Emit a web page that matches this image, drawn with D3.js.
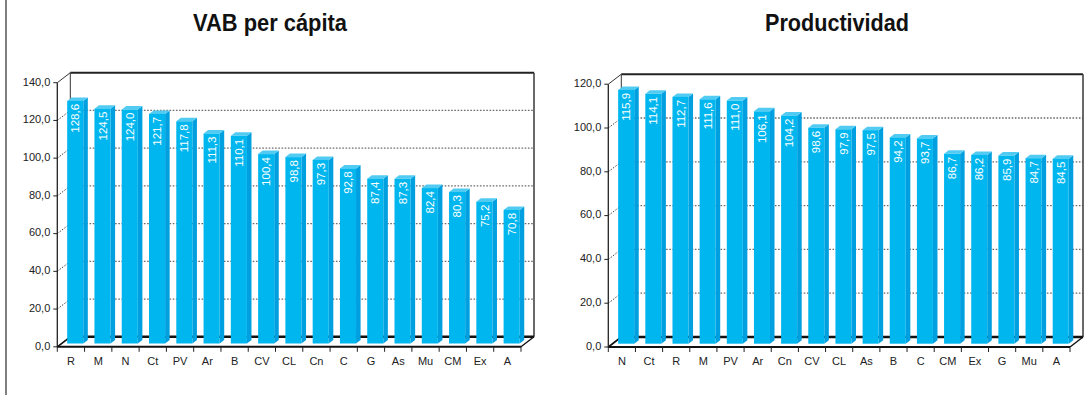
<!DOCTYPE html>
<html>
<head>
<meta charset="utf-8">
<script src="https://cdn.jsdelivr.net/npm/d3@7"></script>
<style>
  html, body { margin: 0; padding: 0; background: #fff; }
  svg { display: block; font-family: "Liberation Sans", Arial, sans-serif; }
</style>
</head>
<body>
<svg id="chart" width="1088" height="395"></svg>
<script>
// Regional indices (Spain = 100)
const vabCategories = ["R", "M", "N", "Ct", "PV", "Ar", "B", "CV", "CL", "Cn", "C", "G", "As", "Mu", "CM", "Ex", "A"];
const vabValues = [128.6, 124.5, 124.0, 121.7, 117.8, 111.3, 110.1, 100.4, 98.8, 97.3, 92.8, 87.4, 87.3, 82.4, 80.3, 75.2, 70.8];
const vabTicks = [0, 20, 40, 60, 80, 100, 120, 140];

const prodCategories = ["N", "Ct", "R", "M", "PV", "Ar", "Cn", "CV", "CL", "As", "B", "C", "CM", "Ex", "G", "Mu", "A"];
const prodValues = [115.9, 114.1, 112.7, 111.6, 111.0, 106.1, 104.2, 98.6, 97.9, 97.5, 94.2, 93.7, 86.7, 86.2, 85.9, 84.7, 84.5];
const prodTicks = [0, 20, 40, 60, 80, 100, 120];

const svg = d3.select("#chart");
const locale = d3.formatLocale({ decimal: ",", thousands: ".", grouping: [3], currency: ["", "€"] });
const fmt = locale.format(".1f");

// depth vector of the 3D box and bar placement inside it
const DX = 13, DY = -10;
const F1 = 0.33, F2 = 0.68;

const COLORS = {
  front: "#00B6EF",
  side: "#009FDF",
  top: "#52CBF3",
  axis: "#1a1a1a",
  grid: "#6a6a6a",
  text: "#222"
};

// left frame line
svg.append("line")
  .attr("x1", 6).attr("x2", 6).attr("y1", 0).attr("y2", 395)
  .attr("stroke", "#555").attr("stroke-width", 1.5);

function drawChart(opts) {
  const { title, titleX, titleWidth, categories, values, ticks, x0, x1, yZero, yTop } = opts;
  const g = svg.append("g");

  const x = d3.scaleBand().domain(categories).range([x0, x1])
    .paddingInner(0.41).paddingOuter(0.205);
  const y = d3.scaleLinear().domain([0, d3.max(ticks)]).range([yZero, yTop]);
  const yMax = d3.max(ticks);

  // title
  g.append("text")
    .attr("x", titleX).attr("y", 31)
    .attr("text-anchor", "middle")
    .attr("font-size", 23).attr("font-weight", "bold")
    .attr("textLength", titleWidth).attr("lengthAdjust", "spacingAndGlyphs")
    .attr("fill", "#111")
    .text(title);

  // back wall gridlines (dotted)
  g.append("g").selectAll("line").data(ticks.filter(t => t > 0 && t < yMax)).join("line")
    .attr("x1", x0 + DX).attr("x2", x1 + DX)
    .attr("y1", d => y(d) + DY).attr("y2", d => y(d) + DY)
    .attr("stroke", COLORS.grid).attr("stroke-width", 1.3)
    .attr("stroke-dasharray", "1.6,1.6");

  // back wall frame
  g.append("line")
    .attr("x1", x0 + DX).attr("x2", x1 + DX)
    .attr("y1", y(yMax) + DY).attr("y2", y(yMax) + DY)
    .attr("stroke", "#222").attr("stroke-width", 2);
  g.append("line")
    .attr("x1", x1 + DX).attr("x2", x1 + DX)
    .attr("y1", y(yMax) + DY).attr("y2", y(0) + DY)
    .attr("stroke", "#444").attr("stroke-width", 1.6);
  g.append("line")
    .attr("x1", x0 + DX).attr("x2", x0 + DX)
    .attr("y1", y(yMax) + DY).attr("y2", y(0) + DY)
    .attr("stroke", "#333").attr("stroke-width", 1);
  g.append("line")
    .attr("x1", x0).attr("x2", x0 + DX)
    .attr("y1", y(yMax)).attr("y2", y(yMax) + DY)
    .attr("stroke", "#333").attr("stroke-width", 1);

  // dotted diagonal tick connectors from the axis to the wall
  g.append("g").selectAll("line").data(ticks.filter(t => t < yMax)).join("line")
    .attr("x1", x0).attr("x2", x0 + DX)
    .attr("y1", d => y(d)).attr("y2", d => y(d) + DY)
    .attr("stroke", "#333").attr("stroke-width", 1)
    .attr("stroke-dasharray", "1.4,1.6");

  // floor
  g.append("path")
    .attr("d", `M${x0},${y(0)} L${x0 + DX},${y(0) + DY} L${x1 + DX},${y(0) + DY} L${x1},${y(0)} Z`)
    .attr("fill", "#fff").attr("stroke", "none");
  g.append("line")
    .attr("x1", x0 + DX).attr("x2", x1 + DX)
    .attr("y1", y(0) + DY).attr("y2", y(0) + DY)
    .attr("stroke", "#111").attr("stroke-width", 2.6);
  g.append("line")
    .attr("x1", x0).attr("x2", x0 + DX)
    .attr("y1", y(0)).attr("y2", y(0) + DY)
    .attr("stroke", "#111").attr("stroke-width", 1.6);
  g.append("line")
    .attr("x1", x1).attr("x2", x1 + DX)
    .attr("y1", y(0)).attr("y2", y(0) + DY)
    .attr("stroke", "#111").attr("stroke-width", 1.4);

  // bars
  const data = categories.map((c, i) => ({ c, v: values[i] }));
  const bars = g.append("g").selectAll("g").data(data).join("g");
  const fx = DX * F1, fy = DY * F1, bx = DX * F2, by = DY * F2;
  const w = x.bandwidth();

  bars.append("polygon")
    .attr("points", d => {
      const xr = x(d.c) + w, yt = y(d.v), yb = y(0);
      return [[xr + fx, yt + fy], [xr + bx, yt + by], [xr + bx, yb + by], [xr + fx, yb + fy]].join(" ");
    })
    .attr("fill", COLORS.side);
  bars.append("polygon")
    .attr("points", d => {
      const xl = x(d.c), xr = xl + w, yt = y(d.v);
      return [[xl + fx, yt + fy], [xr + fx, yt + fy], [xr + bx, yt + by], [xl + bx, yt + by]].join(" ");
    })
    .attr("fill", COLORS.top);
  bars.append("rect")
    .attr("x", d => x(d.c) + fx)
    .attr("y", d => y(d.v) + fy)
    .attr("width", w)
    .attr("height", d => y(0) - y(d.v))
    .attr("fill", COLORS.front);

  // value labels, rotated inside the bar tops
  bars.append("text")
    .attr("transform", d => `translate(${x(d.c) + w / 2 + fx},${y(d.v) + fy + 3}) rotate(-90)`)
    .attr("text-anchor", "end")
    .attr("dy", "0.36em")
    .attr("font-size", 11.5)
    .attr("fill", "#fff")
    .text(d => fmt(d.v));

  // front floor edge and value axis
  g.append("line")
    .attr("x1", x0).attr("x2", x1)
    .attr("y1", y(0)).attr("y2", y(0))
    .attr("stroke", "#111").attr("stroke-width", 2);
  g.append("line")
    .attr("x1", x0).attr("x2", x0)
    .attr("y1", y(yMax)).attr("y2", y(0) + 0.5)
    .attr("stroke", "#222").attr("stroke-width", 1.3);

  // value axis ticks and labels
  const yt = g.append("g").selectAll("g").data(ticks).join("g")
    .attr("transform", d => `translate(${x0},${y(d)})`);
  yt.append("line").attr("x1", -4).attr("x2", 0).attr("stroke", "#222").attr("stroke-width", 1);
  yt.append("text")
    .attr("x", -7).attr("y", -1)
    .attr("text-anchor", "end").attr("dy", "0.35em")
    .attr("font-size", 11).attr("fill", COLORS.text)
    .text(d => fmt(d));

  // category ticks and labels
  const step = x.step();
  const bounds = d3.range(categories.length + 1).map(i => x0 + i * step);
  g.append("g").selectAll("line").data(bounds).join("line")
    .attr("x1", d => d).attr("x2", d => d)
    .attr("y1", y(0)).attr("y2", y(0) + 5)
    .attr("stroke", "#222").attr("stroke-width", 1);
  g.append("g").selectAll("text").data(categories).join("text")
    .attr("x", d => x(d) + w / 2)
    .attr("y", y(0) + 14)
    .attr("text-anchor", "middle").attr("dy", "0.35em")
    .attr("font-size", 11).attr("fill", COLORS.text)
    .text(d => d);
}

drawChart({
  title: "VAB per cápita", titleX: 270, titleWidth: 154,
  categories: vabCategories, values: vabValues, ticks: vabTicks,
  x0: 57.3, x1: 521, yZero: 346.8, yTop: 82.7
});

drawChart({
  title: "Productividad", titleX: 837, titleWidth: 144,
  categories: prodCategories, values: prodValues, ticks: prodTicks,
  x0: 608.3, x1: 1070, yZero: 347, yTop: 84.2
});
</script>
</body>
</html>
